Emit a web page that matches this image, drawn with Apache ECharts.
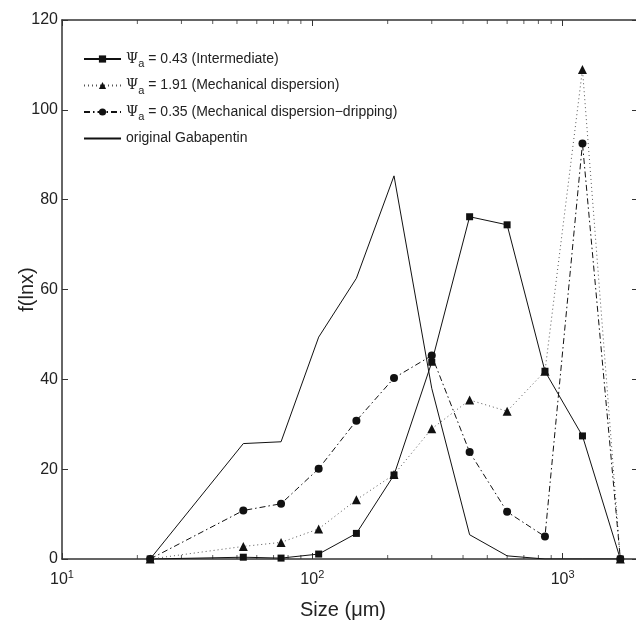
<!DOCTYPE html>
<html>
<head>
<meta charset="utf-8">
<script src="https://cdn.jsdelivr.net/npm/echarts@6/dist/echarts.min.js"></script>
<style>
html, body { margin: 0; padding: 0; background: #fff; }
#chart { width: 636px; height: 626px; }
</style>
</head>
<body>
<div id="chart"></div>
<script>
// bin sizes (um) and the four distributions
var sizes = [22.5, 53, 75, 106, 150, 212, 300, 425, 600, 850, 1200, 1700];
var intermediate = [0, 0.4, 0.2, 1.1, 5.7, 18.7, 43.8, 76.2, 74.4, 41.8, 27.4, 0];
var mechanical = [0, 2.8, 3.7, 6.7, 13.2, 18.8, 29, 35.4, 32.9, 41.8, 109, 0];
var dripping = [0, 10.8, 12.3, 20.1, 30.8, 40.3, 45.3, 23.8, 10.5, 5, 92.5, 0];
var gabapentin = [0, 25.7, 26.1, 49.4, 62.5, 85.3, 38, 5.4, 0.7, 0, 0, 0];
var names = [
	'Ψa = 0.43 (Intermediate)',
	'Ψa = 1.91 (Mechanical dispersion)',
	'Ψa = 0.35 (Mechanical dispersion\u2212dripping)',
	'original Gabapentin'
];
var yTicks = [0, 20, 40, 60, 80, 100, 120];
// log axis minor tick positions (drawn as small marks on top and bottom)
var minorTicks = [20, 30, 40, 50, 60, 70, 80, 90, 200, 300, 400, 500, 600, 700, 800, 900, 2000];

function pairs(vals) {
	var t = [];
	for (var i = 0; i < sizes.length; i++) {
		t.push([sizes[i], vals[i]]);
	}
	return t;
}

function tickMarks(y) {
	var t = [];
	for (var i = 0; i < minorTicks.length; i++) {
		t.push([minorTicks[i], y]);
	}
	return t;
}

var font = 'Liberation Sans, Arial, Helvetica, sans-serif';
var frame = { show: true, onZero: false, lineStyle: { color: '#333', width: 1.5 } };

function xAxisOpt(pos, labels) {
	return {
		type: 'log',
		logBase: 10,
		position: pos,
		min: 10,
		max: 2000,
		axisLine: frame,
		axisTick: { show: true, inside: true, length: 6, lineStyle: { color: '#333' } },
		splitLine: { show: false },
		axisLabel: {
			show: labels,
			showMaxLabel: false,
			margin: 10,
			fontFamily: font,
			formatter: function (v) {
				return '{b|10}{s|' + Math.round(Math.log(v) / Math.LN10) + '}';
			},
			rich: {
				b: { fontSize: 16, fontFamily: font, color: '#222' },
				s: { fontSize: 11, fontFamily: font, color: '#222', verticalAlign: 'top', padding: [0, 0, 10, 0] }
			}
		}
	};
}

function yAxisOpt(pos, labels) {
	return {
		type: 'value',
		position: pos,
		min: yTicks[0],
		max: yTicks[yTicks.length - 1],
		interval: 20,
		axisLine: frame,
		axisTick: { show: true, inside: true, length: 6, lineStyle: { color: '#333' } },
		splitLine: { show: false },
		axisLabel: { show: labels, margin: 4, fontSize: 16, fontFamily: font, color: '#222' }
	};
}

var myChart = echarts.init(document.getElementById('chart'));
var xb = xAxisOpt('bottom', true);
xb.name = 'Size (\u03bcm)';
xb.nameLocation = 'middle';
xb.nameGap = 41;
xb.nameMoveOverlap = false;
xb.nameTextStyle = { fontSize: 20, fontFamily: font, color: '#222', padding: [0, 14, 0, 0] };
var yl = yAxisOpt('left', true);
yl.name = 'f(lnx)';
yl.nameLocation = 'middle';
yl.nameGap = 25;
yl.nameMoveOverlap = false;
yl.nameTextStyle = { fontSize: 20, fontFamily: font, color: '#222' };

var legendData = [names[0], names[1], names[2], { name: names[3], itemStyle: { opacity: 0 } }];

var option = {
	backgroundColor: '#fff',
	animation: false,
	grid: { left: 62, top: 20, right: -2, bottom: 67, containLabel: false, outerBoundsMode: 'none' },
	legend: {
		orient: 'vertical',
		left: 83,
		top: 52,
		padding: 0,
		itemWidth: 37,
		itemHeight: 9,
		itemGap: 9,
		textStyle: {
			fontSize: 14,
			fontFamily: font,
			color: '#222',
			rich: {
				p: { fontSize: 14, fontFamily: 'DejaVu Serif, serif', color: '#222' },
				s: { fontSize: 11, fontFamily: font, color: '#222', verticalAlign: 'bottom', padding: [10, 0, 0, 0] }
			}
		},
		formatter: function (name) {
			if (name.indexOf('Ψa') === 0) {
				return '{p|Ψ}{s|a}' + name.substring(2);
			}
			return name;
		},
		data: legendData
	},
	xAxis: [xb, xAxisOpt('top', false)],
	yAxis: [yl, yAxisOpt('right', false)],
	series: [
		{
			name: names[0],
			type: 'line',
			data: pairs(intermediate),
			symbol: 'rect',
			symbolSize: 7,
			itemStyle: { color: '#111' },
			lineStyle: { color: '#111', width: 1 }
		},
		{
			name: names[1],
			type: 'line',
			data: pairs(mechanical),
			symbol: 'triangle',
			symbolSize: 9,
			itemStyle: { color: '#111' },
			lineStyle: { color: '#555', width: 1, type: [1, 3] }
		},
		{
			name: names[2],
			type: 'line',
			data: pairs(dripping),
			symbol: 'circle',
			symbolSize: 8,
			itemStyle: { color: '#111' },
			lineStyle: { color: '#111', width: 1, type: [6, 3, 1.5, 3] }
		},
		{
			name: names[3],
			type: 'line',
			data: pairs(gabapentin),
			symbol: 'none',
			itemStyle: { color: '#111' },
			lineStyle: { color: '#111', width: 1 }
		},
		{
			name: 'minor-bottom',
			type: 'scatter',
			silent: true,
			data: tickMarks(yTicks[0]),
			symbol: 'rect',
			symbolSize: [1, 4],
			symbolOffset: [0, -2],
			itemStyle: { color: '#333' }
		},
		{
			name: 'minor-top',
			type: 'scatter',
			silent: true,
			data: tickMarks(yTicks[yTicks.length - 1]),
			symbol: 'rect',
			symbolSize: [1, 4],
			symbolOffset: [0, 2],
			itemStyle: { color: '#333' }
		}
	]
};
myChart.setOption(option);
</script>
</body>
</html>
